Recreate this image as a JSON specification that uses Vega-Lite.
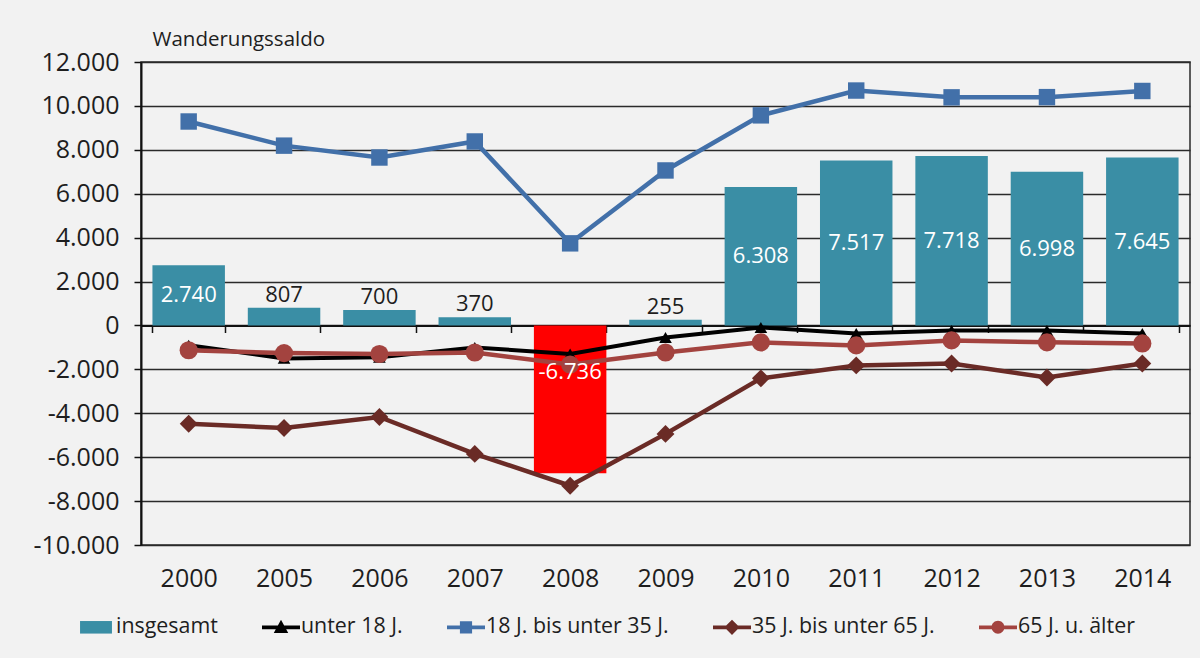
{
  "$schema": "https://vega.github.io/schema/vega-lite/v6.json",
  "width": 1049,
  "height": 483,
  "autosize": {"type": "none"},
  "padding": {"left": 141, "top": 62, "right": 10, "bottom": 113},
  "background": "#f2f2f2",
  "config": {
    "locale": {"number": {"decimal": ",", "thousands": ".", "grouping": [3], "currency": ["", " €"], "minus": "-"}},
    "font": "Open Sans",
    "view": {"stroke": "#2a2a2a", "strokeWidth": 1.5, "fill": "#f2f2f2"},
    "axis": {"labelFont": "Open Sans", "labelColor": "#1e1e1e", "titleFont": "Open Sans"}
  },
  "data": {"values": [
    {"year": "2000", "series": "insgesamt", "value": 2740},
    {"year": "2005", "series": "insgesamt", "value": 807},
    {"year": "2006", "series": "insgesamt", "value": 700},
    {"year": "2007", "series": "insgesamt", "value": 370},
    {"year": "2008", "series": "insgesamt", "value": -6736},
    {"year": "2009", "series": "insgesamt", "value": 255},
    {"year": "2010", "series": "insgesamt", "value": 6308},
    {"year": "2011", "series": "insgesamt", "value": 7517},
    {"year": "2012", "series": "insgesamt", "value": 7718},
    {"year": "2013", "series": "insgesamt", "value": 6998},
    {"year": "2014", "series": "insgesamt", "value": 7645},
    {"year": "2000", "series": "unter 18 J.", "value": -900},
    {"year": "2005", "series": "unter 18 J.", "value": -1500},
    {"year": "2006", "series": "unter 18 J.", "value": -1450},
    {"year": "2007", "series": "unter 18 J.", "value": -1000},
    {"year": "2008", "series": "unter 18 J.", "value": -1300},
    {"year": "2009", "series": "unter 18 J.", "value": -550},
    {"year": "2010", "series": "unter 18 J.", "value": -90},
    {"year": "2011", "series": "unter 18 J.", "value": -370},
    {"year": "2012", "series": "unter 18 J.", "value": -230},
    {"year": "2013", "series": "unter 18 J.", "value": -230},
    {"year": "2014", "series": "unter 18 J.", "value": -370},
    {"year": "2000", "series": "18 J. bis unter 35 J.", "value": 9290},
    {"year": "2005", "series": "18 J. bis unter 35 J.", "value": 8190},
    {"year": "2006", "series": "18 J. bis unter 35 J.", "value": 7650},
    {"year": "2007", "series": "18 J. bis unter 35 J.", "value": 8380},
    {"year": "2008", "series": "18 J. bis unter 35 J.", "value": 3740},
    {"year": "2009", "series": "18 J. bis unter 35 J.", "value": 7060},
    {"year": "2010", "series": "18 J. bis unter 35 J.", "value": 9570},
    {"year": "2011", "series": "18 J. bis unter 35 J.", "value": 10700},
    {"year": "2012", "series": "18 J. bis unter 35 J.", "value": 10390},
    {"year": "2013", "series": "18 J. bis unter 35 J.", "value": 10400},
    {"year": "2014", "series": "18 J. bis unter 35 J.", "value": 10680},
    {"year": "2000", "series": "35 J. bis unter 65 J.", "value": -4480},
    {"year": "2005", "series": "35 J. bis unter 65 J.", "value": -4670},
    {"year": "2006", "series": "35 J. bis unter 65 J.", "value": -4170},
    {"year": "2007", "series": "35 J. bis unter 65 J.", "value": -5850},
    {"year": "2008", "series": "35 J. bis unter 65 J.", "value": -7300},
    {"year": "2009", "series": "35 J. bis unter 65 J.", "value": -4940},
    {"year": "2010", "series": "35 J. bis unter 65 J.", "value": -2410},
    {"year": "2011", "series": "35 J. bis unter 65 J.", "value": -1820},
    {"year": "2012", "series": "35 J. bis unter 65 J.", "value": -1730},
    {"year": "2013", "series": "35 J. bis unter 65 J.", "value": -2370},
    {"year": "2014", "series": "35 J. bis unter 65 J.", "value": -1730},
    {"year": "2000", "series": "65 J. u. älter", "value": -1130},
    {"year": "2005", "series": "65 J. u. älter", "value": -1260},
    {"year": "2006", "series": "65 J. u. älter", "value": -1300},
    {"year": "2007", "series": "65 J. u. älter", "value": -1230},
    {"year": "2008", "series": "65 J. u. älter", "value": -1780},
    {"year": "2009", "series": "65 J. u. älter", "value": -1230},
    {"year": "2010", "series": "65 J. u. älter", "value": -770},
    {"year": "2011", "series": "65 J. u. älter", "value": -910},
    {"year": "2012", "series": "65 J. u. älter", "value": -680},
    {"year": "2013", "series": "65 J. u. älter", "value": -770},
    {"year": "2014", "series": "65 J. u. älter", "value": -820}
  ]},
  "encoding": {
    "x": {
      "field": "year", "type": "ordinal",
      "scale": {"paddingInner": 0.24, "paddingOuter": 0.12},
      "axis": {
        "title": null, "orient": "bottom", "offset": -219.5,
        "domain": true, "domainColor": "#111", "domainWidth": 2,
        "ticks": true, "tickBand": "extent", "tickSize": 7, "tickColor": "#111", "tickWidth": 1.5,
        "labelAngle": 0, "labelFontSize": 25, "labelPadding": 234, "grid": false
      }
    },
    "y": {
      "field": "value", "type": "quantitative",
      "scale": {"domain": [-10000, 12000], "nice": false, "zero": false},
      "axis": {
        "values": [-10000, -8000, -6000, -4000, -2000, 0, 2000, 4000, 6000, 8000, 10000, 12000],
        "format": ",d", "labelFontSize": 25, "labelPadding": 15,
        "domain": true, "domainColor": "#111", "domainWidth": 2,
        "ticks": true, "tickSize": 7, "tickColor": "#111", "tickWidth": 1.5,
        "grid": true, "gridColor": "#2a2a2a", "gridWidth": 1.6,
        "title": "Wanderungssaldo", "titleAngle": 0, "titleAlign": "left", "titleBaseline": "alphabetic",
        "titleX": 11, "titleY": -17, "titleFontSize": 20.5, "titleFontWeight": "normal", "titleColor": "#1e1e1e"
      }
    }
  },
  "layer": [
    {
      "transform": [{"filter": "datum.series === 'insgesamt'"}],
      "mark": {"type": "bar"},
      "encoding": {
        "color": {
          "condition": {"test": "datum.year === '2008'", "value": "#ff0000"},
          "field": "series", "type": "nominal",
          "scale": {
            "domain": ["insgesamt", "unter 18 J.", "18 J. bis unter 35 J.", "35 J. bis unter 65 J.", "65 J. u. älter"],
            "range": ["#3a8ea5", "#000000", "#4270a9", "#6a2b26", "#a3433f"]
          },
          "legend": {
            "title": null, "orient": "none", "legendX": -64, "legendY": 546,
            "direction": "horizontal", "columns": 5, "columnPadding": 44, "padding": 0,
            "labelFont": "Open Sans", "labelFontSize": 21.4, "labelColor": "#1e1e1e", "labelOffset": 1, "labelLimit": 0,
            "symbolSize": 1444, "symbolStrokeWidth": 0,
            "encode": {
              "symbols": {
                "update": {
                  "shape": {"signal": "datum.value === 'insgesamt' ? 'M-0.84,-0.33H0.84V0.33H-0.84Z' : datum.value === 'unter 18 J.' ? 'M-1,-0.1H1V0.1H-1Z M0,-0.4L0.38,0.3H-0.38Z' : datum.value === '18 J. bis unter 35 J.' ? 'M-1,-0.1H1V0.1H-1Z M-0.32,-0.32H0.32V0.32H-0.32Z' : datum.value === '35 J. bis unter 65 J.' ? 'M-1,-0.1H1V0.1H-1Z M0,-0.4L0.4,0L0,0.4L-0.4,0Z' : 'M-1,-0.1H1V0.1H-1Z M-0.34,0A0.34,0.34,0,1,1,0.34,0A0.34,0.34,0,1,1,-0.34,0Z'"},
                  "fill": {"scale": "color", "field": "value"},
                  "stroke": {"value": "transparent"},
                  "strokeWidth": {"value": 0},
                  "opacity": {"value": 1}
                }
              }
            }
          }
        }
      }
    },
    {
      "transform": [{"filter": "datum.series === 'unter 18 J.'"}],
      "mark": {"type": "line", "strokeWidth": 4, "point": {"shape": "triangle-up", "size": 160, "filled": true, "opacity": 1}},
      "encoding": {"color": {"field": "series", "type": "nominal"}}
    },
    {
      "transform": [{"filter": "datum.series === '18 J. bis unter 35 J.'"}],
      "mark": {"type": "line", "strokeWidth": 4.5, "point": {"shape": "square", "size": 270, "filled": true, "opacity": 1}},
      "encoding": {"color": {"field": "series", "type": "nominal"}}
    },
    {
      "transform": [{"filter": "datum.series === '35 J. bis unter 65 J.'"}],
      "mark": {"type": "line", "strokeWidth": 4.5, "point": {"shape": "diamond", "size": 320, "filled": true, "opacity": 1}},
      "encoding": {"color": {"field": "series", "type": "nominal"}}
    },
    {
      "transform": [{"filter": "datum.series === '65 J. u. älter'"}],
      "mark": {"type": "line", "strokeWidth": 4.5, "point": {"shape": "circle", "size": 330, "filled": true, "opacity": 1}},
      "encoding": {"color": {"field": "series", "type": "nominal"}}
    },
    {
      "transform": [
        {"filter": "datum.series === 'insgesamt' && (datum.year === '2000' || datum.value > 6000)"},
        {"calculate": "datum.value / 2", "as": "mid"}
      ],
      "mark": {"type": "text", "color": "#ffffff", "fontSize": 22, "font": "Open Sans", "baseline": "middle"},
      "encoding": {
        "y": {"field": "mid", "type": "quantitative"},
        "text": {"field": "value", "type": "quantitative", "format": ",d"}
      }
    },
    {
      "transform": [
        {"filter": "datum.series === 'insgesamt' && datum.year === '2008'"},
        {"calculate": "datum.value / 2", "as": "mid"}
      ],
      "mark": {"type": "text", "color": "#ffffff", "fontSize": 22, "font": "Open Sans", "baseline": "middle", "dy": -27},
      "encoding": {
        "y": {"field": "mid", "type": "quantitative"},
        "text": {"field": "value", "type": "quantitative", "format": ",d"}
      }
    },
    {
      "transform": [{"filter": "datum.series === 'insgesamt' && datum.value > 0 && datum.value < 1000"}],
      "mark": {"type": "text", "color": "#1e1e1e", "fontSize": 22, "font": "Open Sans", "baseline": "alphabetic", "dy": -6},
      "encoding": {
        "text": {"field": "value", "type": "quantitative", "format": ",d"}
      }
    }
  ]
}
